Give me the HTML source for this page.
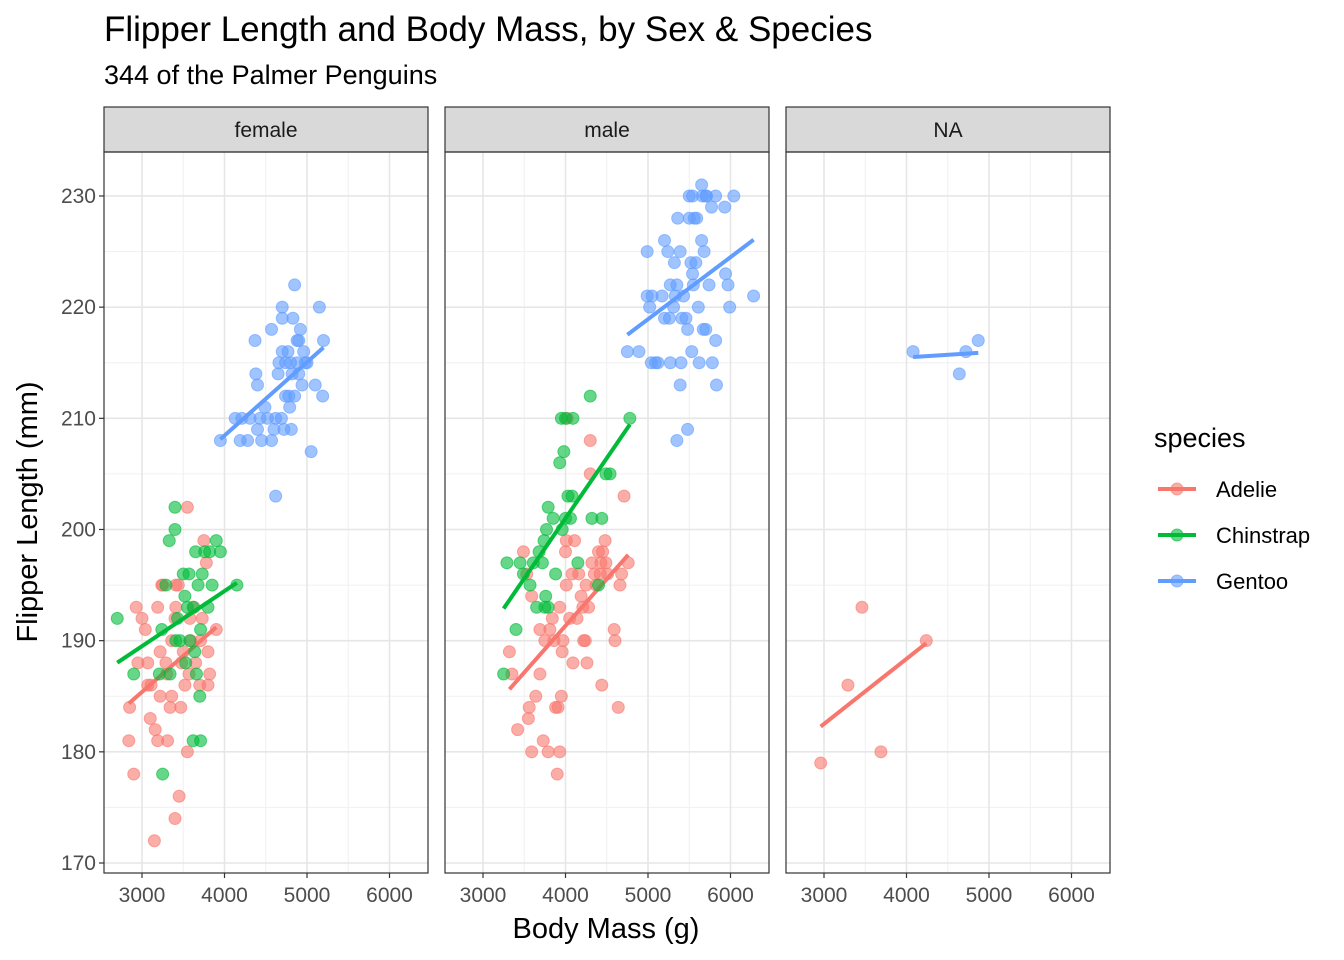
<!DOCTYPE html>
<html><head><meta charset="utf-8">
<style>
html,body{margin:0;padding:0;background:#fff;}
svg{display:block;font-family:"Liberation Sans",Arial,sans-serif;}
</style></head>
<body>
<svg id="chart" width="1344" height="960" viewBox="0 0 1344 960" xmlns="http://www.w3.org/2000/svg">
<text x="104" y="41" font-size="35" fill="#000">Flipper Length and Body Mass, by Sex &amp; Species</text>
<text x="104" y="84" font-size="27" fill="#000">344 of the Palmer Penguins</text>
<text x="606" y="938" font-size="29" text-anchor="middle" fill="#000">Body Mass (g)</text>
<text transform="translate(37,512) rotate(-90)" font-size="29" text-anchor="middle" fill="#000">Flipper Length (mm)</text>
<g id="panels"></g>
<g id="legend"></g>
</svg>
<script>
const facets = ["female","male","NA"];
const species = ["Adelie","Chinstrap","Gentoo"];
const colors = ["#F8766D","#00BA38","#619CFF"];
const xTicks = [3000,4000,5000,6000];
const yTicks = [170,180,190,200,210,220,230];
// female
const fAdelieMass = [2850,2840,2900,2930,3000,3040,3070,3070,3100,3150,3160,3190,3190,3220,3250,3290,3310,3340,3360,3360,3400,3400,3410,3440,3450,3470,3500,3520,3550,3550,3570,3590,3630,3650,3700,3710,3730,3750,3780,3800,3800,3820,3900,3410,3580,3300,3110,2950,3220,3240,3480];
const fAdelieFlip = [184,181,178,193,192,191,188,186,183,172,182,181,193,189,195,188,181,184,185,190,192,174,193,195,176,184,189,186,180,202,187,190,193,188,186,190,192,199,197,186,189,187,191,195,192,187,186,188,185,195,188];
const fChinMass = [2700,2900,3210,3240,3250,3290,3330,3340,3400,3400,3410,3460,3500,3520,3530,3570,3580,3620,3620,3640,3650,3660,3680,3700,3710,3710,3730,3760,3800,3820,3850,3900,3950,4150,3430,3550];
const fChinFlip = [192,187,187,191,178,195,199,187,202,200,190,190,196,194,188,196,190,193,181,189,198,187,195,185,191,181,196,198,193,198,195,199,198,195,192,193];
const fGentooMass = [3950,4130,4190,4210,4280,4310,4370,4380,4400,4400,4430,4450,4490,4520,4570,4570,4600,4620,4620,4650,4660,4690,4700,4700,4700,4720,4740,4740,4770,4780,4790,4810,4820,4830,4850,4850,4880,4880,4900,4900,4920,4940,4960,4980,5000,5050,5100,5150,5190,5200,4800];
const fGentooFlip = [208,210,208,210,208,210,217,214,213,209,210,208,211,210,208,218,209,203,210,214,215,210,216,220,219,209,212,215,216,212,211,209,214,219,222,212,217,215,217,214,218,213,216,215,215,207,213,220,212,217,215];
// male
const mAdelieMass = [3320,3350,3420,3490,3530,3550,3560,3590,3590,3640,3690,3690,3730,3750,3790,3810,3840,3860,3880,3900,3910,3930,3930,3950,3960,3970,4000,4010,4010,4020,4050,4080,4090,4110,4140,4160,4190,4210,4220,4240,4250,4260,4280,4300,4300,4320,4350,4370,4400,4420,4430,4450,4440,4480,4490,4510,4590,4600,4640,4660,4680,4710,4760];
const mAdelieFlip = [189,187,182,198,196,183,184,194,180,185,187,191,181,190,180,191,192,190,184,178,184,180,193,185,189,190,198,195,199,210,192,196,188,199,192,196,194,193,190,190,195,188,193,205,208,197,196,195,198,196,197,198,186,199,197,196,191,190,184,195,196,203,197];
const mChinMass = [3250,3290,3400,3450,3490,3570,3610,3650,3680,3720,3740,3750,3760,3770,3790,3790,3850,3880,3930,3950,3960,3980,4000,4000,4030,4060,4080,4090,4150,4300,4320,4400,4440,4490,4540,4780];
const mChinFlip = [187,197,191,197,196,195,197,193,198,197,199,193,194,200,202,193,201,196,206,210,200,207,201,210,203,201,203,210,197,212,201,195,201,205,205,210];
const mGentooMass = [4750,4890,4990,4990,5020,5040,5050,5090,5120,5170,5200,5200,5240,5260,5270,5270,5310,5320,5330,5350,5350,5360,5390,5390,5400,5410,5430,5460,5480,5480,5500,5500,5520,5530,5540,5540,5550,5560,5580,5590,5610,5620,5650,5650,5660,5670,5680,5700,5700,5710,5740,5770,5780,5820,5820,5830,5930,5940,5970,5990,6040,6280];
const mGentooFlip = [216,216,221,225,220,215,221,215,215,221,226,219,225,219,222,215,220,224,221,222,208,228,225,213,215,219,221,219,209,218,230,228,224,216,230,223,222,228,224,228,220,215,231,226,230,218,225,230,218,230,222,229,215,230,217,213,229,223,222,220,230,221];
// NA
const nAdelieMass = [2960,3290,3460,3690,4240];
const nAdelieFlip = [179,186,193,180,190];
const nGentooMass = [4080,4640,4720,4870];
const nGentooFlip = [216,214,216,217];

const groups = [
  {facet:0, sp:0, x:fAdelieMass, y:fAdelieFlip},
  {facet:0, sp:1, x:fChinMass, y:fChinFlip},
  {facet:0, sp:2, x:fGentooMass, y:fGentooFlip},
  {facet:1, sp:0, x:mAdelieMass, y:mAdelieFlip},
  {facet:1, sp:1, x:mChinMass, y:mChinFlip},
  {facet:1, sp:2, x:mGentooMass, y:mGentooFlip},
  {facet:2, sp:0, x:nAdelieMass, y:nAdelieFlip},
  {facet:2, sp:2, x:nGentooMass, y:nGentooFlip}
];

const NS = "http://www.w3.org/2000/svg";
const panelLeft = [104,445,786], panelW = 324, plotTop = 152, plotBottom = 873;
function xScale(f, v){ return panelLeft[f] + 38 + (v-3000)*0.0825; }
function yScale(v){ return 863 - (v-170)*11.117; }
function mk(tag, attrs, parent){ const e=document.createElementNS(NS,tag); for(const k in attrs) e.setAttribute(k,attrs[k]); parent.appendChild(e); return e; }
const panels = document.getElementById('panels');

facets.forEach((name,f)=>{
  const g = mk('g',{},panels);
  
  
  const L = panelLeft[f];
  mk('rect',{x:L,y:plotTop,width:panelW,height:plotBottom-plotTop,fill:'#fff'},g);
  for(let v=2500; v<=6500; v+=1000){ const x=xScale(f,v); if(x>L&&x<L+panelW) mk('line',{x1:x,x2:x,y1:plotTop,y2:plotBottom,stroke:'#f0f0f0','stroke-width':1},g); }
  for(let v=165; v<=235; v+=10){ const y=yScale(v); if(y>plotTop&&y<plotBottom) mk('line',{x1:L,x2:L+panelW,y1:y,y2:y,stroke:'#f0f0f0','stroke-width':1},g); }
  xTicks.forEach(v=>{ const x=xScale(f,v);
    const gl=mk('line',{x1:x,x2:x,y1:plotTop,y2:plotBottom,stroke:'#e6e6e6','stroke-width':1.6},g);
    
    
    mk('line',{x1:x,x2:x,y1:plotBottom,y2:plotBottom+5,stroke:'#333','stroke-width':1.2},g);
    const t=mk('text',{x:x,y:plotBottom+29,'font-size':21,'text-anchor':'middle',fill:'#4d4d4d'},g);
    
    
    t.textContent=v; });
  yTicks.forEach(v=>{ const y=yScale(v);
    mk('line',{x1:L,x2:L+panelW,y1:y,y2:y,stroke:'#e6e6e6','stroke-width':1.6},g);
    if(f===0){
      mk('line',{x1:L-5,x2:L,y1:y,y2:y,stroke:'#333','stroke-width':1.2},g);
      const t=mk('text',{x:L-8,y:y+7,'font-size':21,'text-anchor':'end',fill:'#4d4d4d'},g);
      
      
      t.textContent=v;
    }});
  const s=mk('rect',{x:L,y:107,width:panelW,height:45,fill:'#d9d9d9',stroke:'#333','stroke-width':1.2},g);
  
  
  const st=mk('text',{x:L+panelW/2,y:137,'font-size':21,'text-anchor':'middle',fill:'#1a1a1a'},g);
  
  
  st.textContent=name;
  groups.filter(gr=>gr.facet===f).forEach(gr=>{
    const col=colors[gr.sp];
    gr.x.forEach((xv,i)=>{
      const c=mk('circle',{cx:xScale(f,xv),cy:yScale(gr.y[i]),r:6,fill:col,'fill-opacity':0.6,stroke:col,'stroke-opacity':0.6},g);
      
      
    });
    const n=gr.x.length; let sx=0,sy=0,sxx=0,sxy=0;
    for(let i=0;i<n;i++){sx+=gr.x[i];sy+=gr.y[i];sxx+=gr.x[i]*gr.x[i];sxy+=gr.x[i]*gr.y[i];}
    const b=(n*sxy-sx*sy)/(n*sxx-sx*sx), a=(sy-b*sx)/n;
    const x0=Math.min(...gr.x), x1=Math.max(...gr.x);
    const ln=mk('line',{x1:xScale(f,x0),y1:yScale(a+b*x0),x2:xScale(f,x1),y2:yScale(a+b*x1),stroke:col,'stroke-width':4},g);
    
    
  });
  mk('rect',{x:L,y:plotTop,width:panelW,height:plotBottom-plotTop,fill:'none',stroke:'#333','stroke-width':1.2},g);
});

const lg=document.getElementById('legend');
const lt=mk('text',{x:1154,y:447,'font-size':27,fill:'#000'},lg);


lt.textContent='species';
species.forEach((sp,i)=>{
  const y=489+i*46;
  const e=mk('g',{},lg);
  
  
  mk('line',{x1:1158,x2:1196,y1:y,y2:y,stroke:colors[i],'stroke-width':4},e);
  mk('circle',{cx:1177,cy:y,r:6,fill:colors[i],'fill-opacity':0.6,stroke:colors[i],'stroke-opacity':0.6},e);
  const t=mk('text',{x:1216,y:y+8,'font-size':22,fill:'#000'},e);
  t.textContent=sp;
});
</script>
</body></html>
